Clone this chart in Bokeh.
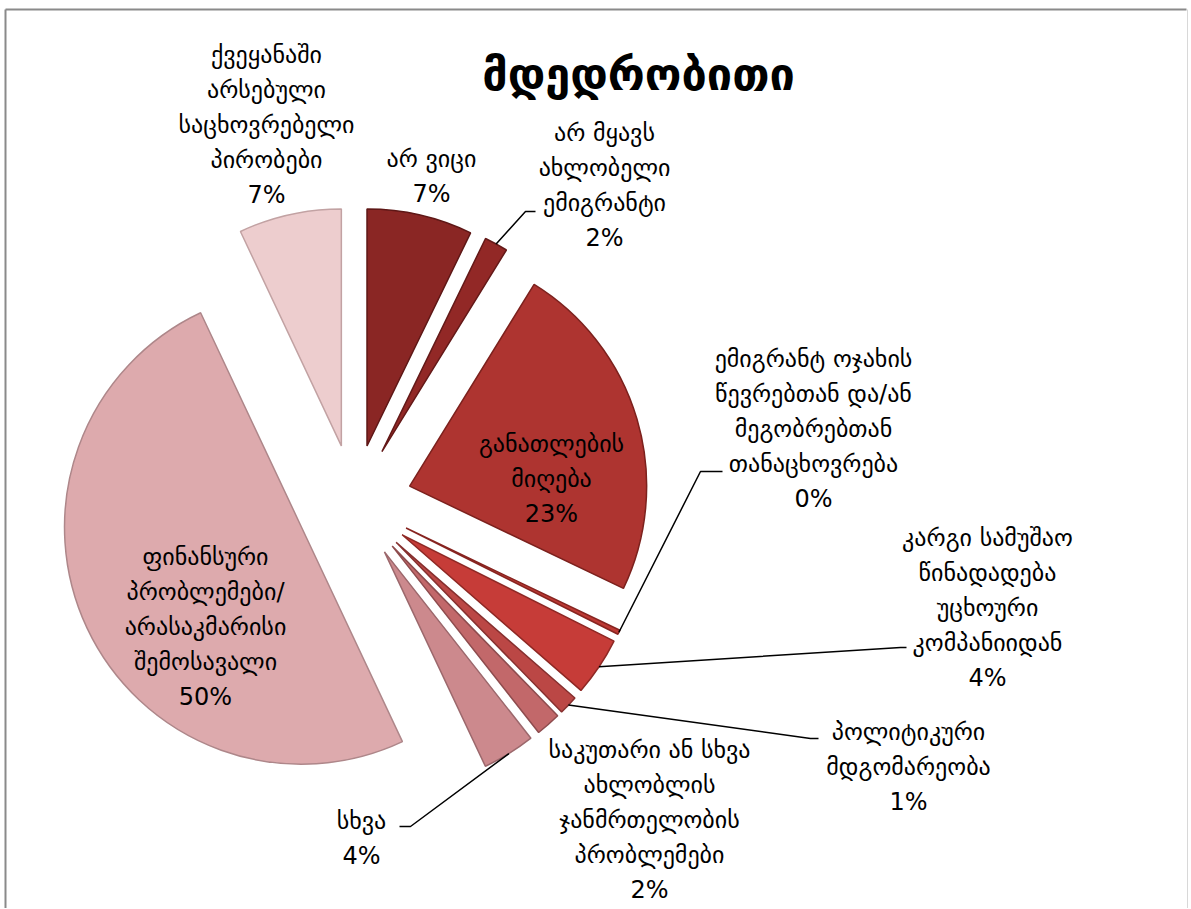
import numpy as np
from bokeh.plotting import figure
from bokeh.models import Range1d, ColumnDataSource
from bokeh.embed import file_html
from bokeh.resources import INLINE
from bokeh.core.properties import value

# ---------------- data ----------------
categories = [
    "არ ვიცი",
    "არ მყავს\nახლობელი\nემიგრანტი",
    "განათლების\nმიღება",
    "ემიგრანტ ოჯახის\nწევრებთან და/ან\nმეგობრებთან\nთანაცხოვრება",
    "კარგი სამუშაო\nწინადადება\nუცხოური\nკომპანიიდან",
    "პოლიტიკური\nმდგომარეობა",
    "საკუთარი ან სხვა\nახლობლის\nჯანმრთელობის\nპრობლემები",
    "სხვა",
    "ფინანსური\nპრობლემები/\nარასაკმარისი\nშემოსავალი",
    "ქვეყანაში\nარსებული\nსაცხოვრებელი\nპირობები",
]
values = [7.2, 1.6, 23.3, 0.3, 4.0, 1.3, 1.7, 3.6, 50.0, 7.0]
pct_labels = ["7%", "2%", "23%", "0%", "4%", "1%", "2%", "4%", "50%", "7%"]
colors = ["#8A2624", "#922826", "#AE3430", "#BC3934", "#C63C38",
          "#BB4745", "#C2686A", "#CC898D", "#DDAAAD", "#EDCDCE"]
edge_colors = ["#5E1716", "#641918", "#7C211D", "#872420", "#8E2824",
               "#86302F", "#8E4C4E", "#9C686C", "#AE878A", "#C2A2A3"]
title = "მდედრობითი"

# ---------------- layout ----------------
W, H = 1190, 908
def sy(y):  # screen y -> data y
    return H - y

CX, CY = 353.5, 502.0   # pie centre (screen)
R = 237.0
D = 58.0                # explosion distance

# label block centres (screen) and leader elbows
label_pos = [(431, 176), (604, 185), (551, 478), (813, 428), (987, 607),
             (908, 766), (649, 819), (361, 838), (205, 626), (266, 124)]
leader = {1: [(525, 211), (535, 211)],
          3: [(700, 471), (722, 471)],
          4: [(900, 647), (906, 647)],
          5: [(810, 738), (818, 738)],
          7: [(410, 826), (399, 826)]}

p = figure(width=W, height=H, x_range=Range1d(0, W), y_range=Range1d(0, H),
           output_backend="svg", toolbar_location=None, min_border=0)
p.axis.visible = False
p.grid.visible = False
p.outline_line_color = None
p.background_fill_color = "white"
p.border_fill_color = "white"

# chart frame
p.line(x=[5, 5], y=[sy(912), sy(9)], line_color="#8a8a8a", line_width=2)
p.line(x=[5, 1186], y=[sy(9), sy(9)], line_color="#8a8a8a", line_width=2)
p.line(x=[1187, 1187], y=[sy(9), sy(912)], line_color="#d8d8d8", line_width=1)

cum = np.concatenate([[0.0], np.cumsum(values)]) / sum(values) * 360.0
ts, te = cum[:-1], cum[1:]
mid = (ts + te) / 2
vx = CX + D * np.sin(np.radians(mid))
vy = CY - D * np.cos(np.radians(mid))
start = np.radians(90 - te)
end = np.radians(90 - ts)

src = ColumnDataSource(dict(x=vx, y=sy(vy), s=start, e=end, c=colors, lc=edge_colors))
p.wedge(x="x", y="y", radius=R, start_angle="s", end_angle="e", fill_color="c",
        line_color="lc", line_width=1.5, source=src)

# leader lines from slice outer arc midpoint
for i, pts in leader.items():
    ox = vx[i] + R * np.sin(np.radians(mid[i]))
    oy = vy[i] - R * np.cos(np.radians(mid[i]))
    xs = [ox] + [q[0] for q in pts]
    ys = [sy(oy)] + [sy(q[1]) for q in pts]
    p.line(x=xs, y=ys, line_color="black", line_width=1.5)

texts = [c + "\n" + pc for c, pc in zip(categories, pct_labels)]
p.text(x=[q[0] for q in label_pos], y=[sy(q[1]) for q in label_pos], text=texts,
       text_align="center", text_baseline="middle", text_font=value("DejaVu Sans"),
       text_font_size="24px", text_line_height=1.25, text_color="black")

p.text(x=[638], y=[sy(74)], text=[title], text_align="center", text_baseline="middle",
       text_font=value("DejaVu Sans"), text_font_size="45px", text_font_style="bold",
       text_color="black")

open("out.html", "w").write(file_html(p, INLINE))
